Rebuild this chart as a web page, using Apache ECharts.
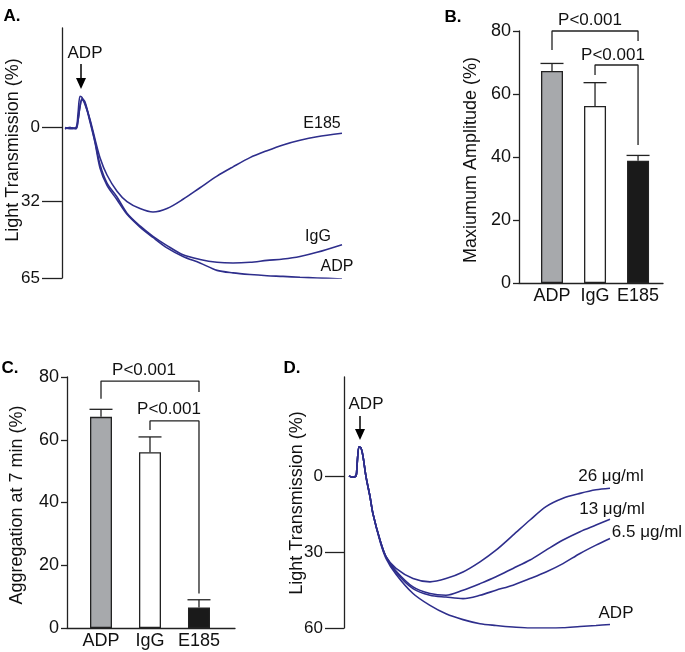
<!DOCTYPE html>
<html>
<head>
<meta charset="utf-8">
<script src="https://cdn.jsdelivr.net/npm/echarts@6/dist/echarts.min.js"></script>
<style>
  html, body { margin: 0; padding: 0; background: #fff; }
  #chart { width: 685px; height: 652px; }
</style>
</head>
<body>
<div id="chart"></div>
<script>
// panel A: aggregation traces (time in arbitrary units, light transmission %)
const timeA = [3, 8, 14, 16, 18, 20, 23, 28, 33, 38, 45, 55, 65, 78, 91, 105, 121, 138, 155, 171, 188, 205, 221, 238, 255, 280];
const traceA_E185 = [0, 0.5, 0, -6, -13.5, -13, -10, -3.5, 5, 13, 20.5, 27.5, 32, 35, 36.5, 35, 31, 26, 21, 17, 13, 10, 7.5, 5.5, 4, 2.5];
const traceA_IgG = [0.5, 0, 0.5, -3, -9, -12.5, -11, -3, 6, 16, 24, 30, 37, 42.5, 47, 51, 55, 57, 58.2, 58.5, 58.2, 57.4, 56.8, 55.7, 53.9, 50.6];
const traceA_ADP = [0.5, 0, 0.5, -3, -9, -12, -10.5, -2.5, 6.5, 17.5, 25, 31.2, 37.5, 43, 47.5, 52, 55.7, 58.5, 61.7, 62.8, 63.5, 64, 64.3, 64.7, 65, 65.4];
const ticksA = [0, 32, 65];

// panel B / C: bars with upper error bars
const barNames = ['ADP', 'IgG', 'E185'];
const barPos = [1, 2, 3];
const ampMean = [67.3, 56.2, 38.8];
const ampUpper = [69.7, 63.6, 40.5];
const aggMean = [67.3, 56, 6.5];
const aggUpper = [69.7, 60.9, 9.0];
const barColors = ['#a7a9ac', '#ffffff', '#1a1a1a'];
// significance brackets [pos, value] corners
const bracketB1 = [[1, 74], [1, 80], [3, 80], [3, 76.8]];
const bracketB2 = [[2, 66], [2, 69.2], [3, 69.2], [3, 43.8]];
const bracketC1 = [[1, 73.1], [1, 78.7], [3, 78.7], [3, 75.2]];
const bracketC2 = [[2, 63.1], [2, 66], [3, 66], [3, 11]];

// panel D: dose traces
const timeD = [5, 8, 12, 13, 15, 17, 19, 22, 26, 29, 36, 42, 52, 69, 86, 102, 119, 136, 152, 169, 186, 202, 219, 236, 252, 266];
const traceD_26 = [0, 0.5, 0, -4, -11.5, -11, -7.7, 0.3, 8.2, 15, 25.3, 31.9, 36.5, 40.5, 41.8, 40.5, 37.9, 33.9, 29.3, 23.4, 17.4, 12.1, 8.8, 6.9, 5.5, 4.9];
const traceD_13 = [0, 0.5, 0, -4, -11.5, -11, -7.7, 0.3, 8.2, 15, 25.3, 31.9, 37.5, 43.8, 46.4, 47.1, 45.1, 42.5, 39.8, 36.5, 33.2, 29.3, 25.3, 22, 19.4, 17.1];
const traceD_65 = [0, 0.5, 0, -4, -11.5, -11, -7.7, 0.3, 8.2, 15, 25.3, 31.9, 38, 44.5, 47.1, 47.8, 48.4, 47.1, 45.1, 43.1, 40.5, 37.9, 34.6, 30.6, 27.3, 24.7];
const traceD_ADP = [0, 0.5, 0, -4, -11.5, -11, -7.7, 0.3, 8.2, 15, 25.8, 32.5, 38.8, 46.4, 51.1, 54.4, 56.7, 58.3, 59, 59.6, 60, 60, 59.9, 59.4, 59, 58.6];
const ticksD = [0, 30, 60];

const FONT = "'Liberation Sans', Arial, sans-serif";
const INK = '#222';
const TRACE = '#2e2e8c';

var myChart = echarts.init(document.getElementById('chart'));

function pairs(xs, ys) {
    return xs.map((x, i) => [x, ys[i]]);
}

function traceSeries(idx, xs, ys) {
    return {
        type: 'line', xAxisIndex: idx, yAxisIndex: idx,
        data: pairs(xs, ys), showSymbol: false, smooth: 0.3,
        lineStyle: { color: TRACE, width: 1.6 }, silent: true
    };
}

function barSeries(idx, means) {
    return {
        type: 'bar', xAxisIndex: idx, yAxisIndex: idx, barWidth: 22,
        data: means.map((v, i) => ({
            value: [barPos[i], v],
            itemStyle: { color: barColors[i], borderColor: INK, borderWidth: 1.3 }
        })),
        silent: true
    };
}

// error bar: vertical from mean to upper, with a cap
function errSeries(idx, means, uppers) {
    return {
        type: 'custom', xAxisIndex: idx, yAxisIndex: idx, z: 5,
        data: means.map((v, i) => [barPos[i], v, uppers[i]]),
        renderItem: function (params, api) {
            let p0 = api.coord([api.value(0), api.value(1)]);
            let p1 = api.coord([api.value(0), api.value(2)]);
            let st = { stroke: INK, lineWidth: 1.3 };
            return {
                type: 'group', children: [
                    { type: 'line', shape: { x1: p0[0], y1: p0[1], x2: p1[0], y2: p1[1] }, style: st },
                    { type: 'line', shape: { x1: p1[0] - 11.5, y1: p1[1], x2: p1[0] + 11.5, y2: p1[1] }, style: st }
                ]
            };
        },
        silent: true
    };
}

function bracketSeries(idx, pts) {
    return {
        type: 'line', xAxisIndex: idx, yAxisIndex: idx, data: pts, clip: false,
        showSymbol: false, lineStyle: { color: INK, width: 1.3 }, silent: true
    };
}

function traceYAxis(idx, min, max, ticks, tickLen) {
    return {
        type: 'value', gridIndex: idx, inverse: true, min: min, max: max,
        axisLine: { show: true, lineStyle: { color: INK, width: 1.3 } },
        axisTick: { show: true, length: tickLen, customValues: ticks, lineStyle: { color: INK, width: 1.3 } },
        axisLabel: { customValues: ticks, margin: tickLen + 2, color: '#111', fontSize: 17, fontFamily: FONT },
        splitLine: { show: false }
    };
}

function barYAxis(idx) {
    return {
        type: 'value', gridIndex: idx, min: 0, max: 80, interval: 20,
        axisLine: { show: true, lineStyle: { color: INK, width: 1.3 } },
        axisTick: { show: true, length: 6, lineStyle: { color: INK, width: 1.3 } },
        axisLabel: { margin: 8, color: '#111', fontSize: 18, fontFamily: FONT },
        splitLine: { show: false }
    };
}

function barXAxis(idx, min, max) {
    return {
        type: 'value', gridIndex: idx, min: min, max: max,
        axisLine: { show: true, onZero: false, lineStyle: { color: INK, width: 1.3 } },
        axisTick: { show: false },
        axisLabel: {
            customValues: barPos, margin: 4, color: '#111', fontSize: 18, fontFamily: FONT,
            formatter: v => barNames[barPos.indexOf(Math.round(v))]
        },
        splitLine: { show: false }
    };
}

function txt(x, y, s, size, opts) {
    return Object.assign({
        type: 'text', x: x, y: y, silent: true,
        style: { text: s, fill: '#111', font: (size || 17) + 'px ' + FONT, align: 'center', verticalAlign: 'middle' }
    }, opts || {});
}

function vtxt(x, y, s) {
    return txt(x, y, s, 18, { rotation: Math.PI / 2 });
}

function bold(x, y, s) {
    return {
        type: 'text', x: x, y: y, silent: true,
        style: { text: s, fill: '#000', font: 'bold 17px ' + FONT, align: 'center', verticalAlign: 'middle' }
    };
}

function arrow(x, y0, y1) {
    return [
        { type: 'line', silent: true, shape: { x1: x, y1: y0, x2: x, y2: y1 - 8 }, style: { stroke: '#000', lineWidth: 1.5 } },
        { type: 'polygon', silent: true, shape: { points: [[x - 5, y1 - 11], [x + 5, y1 - 11], [x, y1]] }, style: { fill: '#000' } }
    ];
}

let option = {
    animation: false,
    grid: [
        { left: 62, top: 28, width: 280, height: 250 },
        { left: 519, top: 31, width: 144, height: 252 },
        { left: 67, top: 377, width: 168, height: 251 },
        { left: 344, top: 377, width: 266, height: 251 }
    ],
    xAxis: [
        { type: 'value', gridIndex: 0, min: 0, max: 280, show: false },
        barXAxis(1, 0.233, 3.58),
        barXAxis(2, 0.306, 3.735),
        { type: 'value', gridIndex: 3, min: 0, max: 266, show: false }
    ],
    yAxis: [
        traceYAxis(0, -43, 65, ticksA, 20),
        barYAxis(1),
        barYAxis(2),
        traceYAxis(3, -39, 60, ticksD, 19)
    ],
    series: [
        traceSeries(0, timeA, traceA_E185),
        traceSeries(0, timeA, traceA_IgG),
        traceSeries(0, timeA, traceA_ADP),
        barSeries(1, ampMean),
        errSeries(1, ampMean, ampUpper),
        bracketSeries(1, bracketB1),
        bracketSeries(1, bracketB2),
        barSeries(2, aggMean),
        errSeries(2, aggMean, aggUpper),
        bracketSeries(2, bracketC1),
        bracketSeries(2, bracketC2),
        traceSeries(3, timeD, traceD_26),
        traceSeries(3, timeD, traceD_13),
        traceSeries(3, timeD, traceD_65),
        traceSeries(3, timeD, traceD_ADP)
    ],
    graphic: [
        bold(12, 16, 'A.'),
        bold(453, 17, 'B.'),
        bold(10, 368, 'C.'),
        bold(292, 368, 'D.'),
        vtxt(13, 150, 'Light Transmission (%)'),
        vtxt(471, 160, 'Maxiumum Amplitude (%)'),
        vtxt(17, 505, 'Aggregation at 7 min (%)'),
        vtxt(297, 503, 'Light Transmission (%)'),
        // panel A annotations
        txt(85, 53, 'ADP', 17),
        ...arrow(81, 64, 89),
        txt(322, 124, 'E185', 16),
        txt(318, 237, 'IgG', 16),
        txt(337, 267, 'ADP', 16),
        // panel B / C p-values
        txt(590, 20, 'P<0.001', 17),
        txt(613, 55, 'P<0.001', 17),
        txt(144, 370, 'P<0.001', 17),
        txt(169, 409, 'P<0.001', 17),
        // panel D annotations
        txt(366, 404, 'ADP', 17),
        ...arrow(360, 416, 440),
        txt(611, 476, '26 μg/ml', 17),
        txt(612, 509, '13 μg/ml', 17),
        txt(647, 532, '6.5 μg/ml', 17),
        txt(616, 613, 'ADP', 17)
    ]
};
myChart.setOption(option);
</script>
</body>
</html>
